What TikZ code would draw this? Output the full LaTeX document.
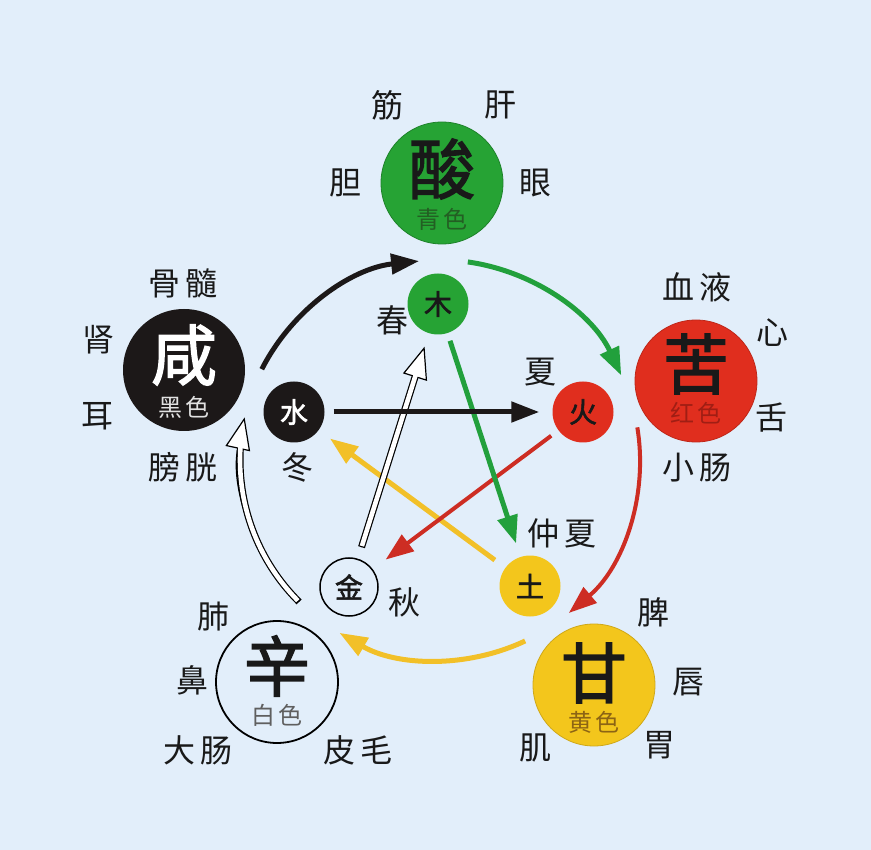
\documentclass[tikz,border=0pt]{standalone}
\usepackage{fontspec}
\newfontfamily\cjk{Noto Sans CJK SC}
\newfontfamily\cjkb[FakeBold=2]{Noto Sans CJK SC}
\usetikzlibrary{arrows.meta,calc}
\definecolor{bg}{RGB}{226,238,250}
\definecolor{cgreen}{RGB}{38,163,52}
\definecolor{cred}{RGB}{224,46,30}
\definecolor{cyellow}{RGB}{243,198,28}
\definecolor{cblack}{RGB}{28,24,24}
\definecolor{agreen}{RGB}{34,160,60}
\definecolor{ared}{RGB}{205,45,35}
\definecolor{ayellow}{RGB}{242,192,40}
\definecolor{sgreen}{RGB}{35,95,35}
\definecolor{sred}{RGB}{160,30,20}
\definecolor{syellow}{RGB}{140,100,20}
\definecolor{sgray}{RGB}{95,95,95}
\definecolor{slight}{RGB}{225,225,225}
\definecolor{ink}{RGB}{25,25,25}
\tikzset{
  bigc/.style={circle, minimum size=122pt, inner sep=0pt},
  smallc/.style={circle, minimum size=61pt, inner sep=0pt, text=ink},
  bigtxt/.style={font={\cjkb\fontsize{66}{66}\selectfont}, inner sep=0pt, text=ink},
  subtxt/.style={font={\cjk\fontsize{24}{24}\selectfont}, inner sep=0pt},
  smalltxt/.style={font={\cjkb\fontsize{28}{28}\selectfont}},
  lbl/.style={font={\cjk\fontsize{32}{32}\selectfont}, inner sep=0pt, text=ink},
  arr/.style={line width=5pt, -{Triangle[length=28pt,width=20pt]}},
  hollowouter/.style={line width=7pt, black},
  hollowtip/.style={line width=1.2pt, black, -{Triangle[length=32pt,width=25pt,fill=white]}},
  hollowinner/.style={line width=4.6pt, white},
}
\begin{document}
\begin{tikzpicture}[x=1pt,y=-1pt]
\fill[bg] (0,0) rectangle (871,850);
\useasboundingbox (0,0) rectangle (871,850);

% big circles
\node[bigc, fill=cgreen, draw=cgreen!80!black, line width=0.8pt] (suan) at (442,183) {};
\node[bigc, fill=cred, draw=cred!85!black, line width=0.8pt] (ku) at (696,381) {};
\node[bigc, fill=cyellow, draw=cyellow!85!black, line width=0.8pt] (gan) at (594,685) {};
\node[bigc, draw=black, line width=1.8pt] (xin) at (277,682) {};
\node[bigc, fill=cblack] (xian) at (184,370) {};

\node[bigtxt] (suanT) at ($(suan)+(0,-14)$) {酸};
\node[subtxt, text=sgreen] (suanS) at ($(suan)+(0,36)$) {青\hspace{3pt}色};
\node[bigtxt] (kuT) at ($(ku)+(0,-17)$) {苦};
\node[subtxt, text=sred] (kuS) at ($(ku)+(0,32)$) {红\hspace{3pt}色};
\node[bigtxt] (ganT) at ($(gan)+(0,-12)$) {甘};
\node[subtxt, text=syellow] (ganS) at ($(gan)+(0,37)$) {黄\hspace{3pt}色};
\node[bigtxt] (xinT) at ($(xin)+(0,-16)$) {辛};
\node[subtxt, text=sgray] (xinS) at ($(xin)+(0,33)$) {白\hspace{3pt}色};
\node[bigtxt, text=white] (xianT) at ($(xian)+(0,-15)$) {咸};
\node[subtxt, text=slight] (xianS) at ($(xian)+(0,37)$) {黑\hspace{3pt}色};

% small circles
\node[smallc, fill=cgreen, smalltxt] (mu) at (438,304) {木};
\node[smallc, fill=cred, smalltxt] (huo) at (583,412) {火};
\node[smallc, fill=cyellow, smalltxt] (tu) at (530,586) {土};
\node[smallc, draw=black, line width=1.5pt, minimum size=58pt, smalltxt] (jin) at (349,587) {金};
\node[smallc, fill=cblack, text=white, smalltxt] (shui) at (294,412) {水};

% organ labels
\node[lbl] (jinL) at (387,105) {筋};
\node[lbl] (gan1) at (500,105) {肝};
\node[lbl] (dan) at (345,183) {胆};
\node[lbl] (yan) at (535,183) {眼};
\node[lbl] (gusui) at (183,283) {骨\hspace{6pt}髓};
\node[lbl] (shen) at (98,340) {肾};
\node[lbl] (er) at (97,416) {耳};
\node[lbl] (pangguang) at (183,467) {膀\hspace{6pt}胱};
\node[lbl] (xueye) at (697,287) {血\hspace{6pt}液};
\node[lbl] (xinz) at (772,333) {心};
\node[lbl] (she) at (771,418) {舌};
\node[lbl] (xiaochang) at (697,468) {小\hspace{6pt}肠};
\node[lbl] (pi) at (653,612) {脾};
\node[lbl] (chun) at (688,682) {唇};
\node[lbl] (wei) at (659,745) {胃};
\node[lbl] (ji) at (535,748) {肌};
\node[lbl] (fei) at (213,617) {肺};
\node[lbl] (bi) at (192,680) {鼻};
\node[lbl] (dachang) at (198,750) {大\hspace{6pt}肠};
\node[lbl] (pimao) at (358,750) {皮\hspace{6pt}毛};
% seasons
\node[lbl] (chunS) at (392,320) {春};
\node[lbl] (xiaS) at (540,372) {夏};
\node[lbl] (zhongxia) at (562,533) {仲\hspace{6pt}夏};
\node[lbl] (dong) at (297,467) {冬};
\node[lbl] (qiu) at (404,602) {秋};

% outer cycle
\coordinate (O) at (440,460);
\coordinate (a1s) at ($(O)+(207:200)$);
\draw[arr, cblack] (a1s) arc[start angle=207, end angle=264, radius=200];
\coordinate (a2s) at ($(O)+(278:200)$);
\draw[arr, agreen] (a2s) arc[start angle=278, end angle=335, radius=200];
\coordinate (a3s) at ($(O)+(350.6:200)$);
\draw[arr, ared, line width=4pt] (a3s) arc[start angle=350.6, end angle=409.9, radius=200];
\coordinate (a4s) at ($(O)+(64.8:200)$);
\draw[arr, ayellow] (a4s) arc[start angle=64.8, end angle=120.2, radius=200];
\coordinate (a5s) at ($(O)+(134.8:200)$);
\coordinate (a5i) at ($(O)+(135.3:200)$);
\draw[hollowouter] (a5s) arc[start angle=134.8, end angle=184.0, radius=200];
\draw[hollowtip] (a5s) arc[start angle=134.8, end angle=192.3, radius=200];
\draw[hollowinner] (a5i) arc[start angle=135.3, end angle=184.8, radius=200];

% inner star
\draw[arr, ayellow, shorten <=13pt, shorten >=14pt] (tu) -- (shui);
\draw[arr, ared, line width=4pt, shorten <=9pt, shorten >=16pt] (huo) -- (jin);
\draw[arr, agreen, shorten <=8pt, shorten >=14pt] (mu) -- (tu);
\draw[hollowouter, shorten <=12pt, shorten >=42pt] (jin) -- (mu);
\draw[hollowtip, shorten <=12pt, shorten >=14pt] (jin) -- (mu);
\draw[hollowinner, shorten <=13.2pt, shorten >=41pt] (jin) -- (mu);
\draw[arr, cblack, shorten <=9pt, shorten >=13pt] (shui) -- (huo);
\end{tikzpicture}
\end{document}
